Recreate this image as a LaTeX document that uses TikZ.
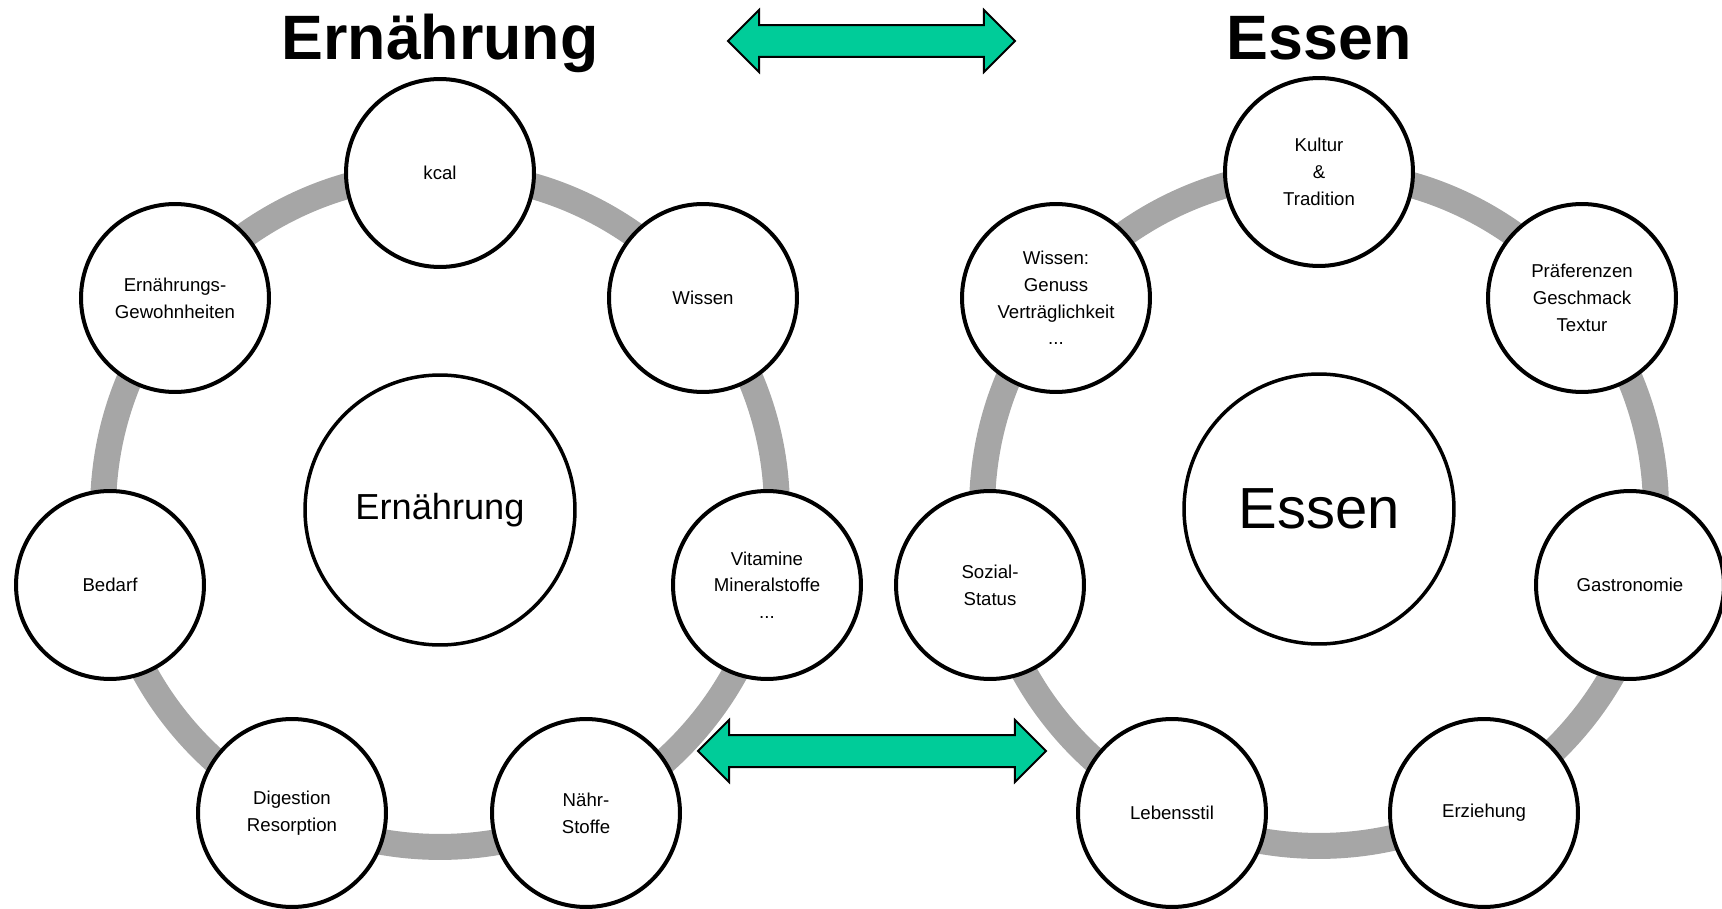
\documentclass[tikz,border=0pt]{standalone}
\usepackage{fontspec}
\setmainfont{Liberation Sans}
\usetikzlibrary{shapes.arrows}
\definecolor{arrowgreen}{RGB}{0,204,153}
\tikzstyle{cRing} = [line width=0.52cm, draw=black!35]
\tikzstyle{cHub} = [circle, minimum size=5.4cm, inner sep=0pt, draw=black, line width=0.07cm, fill=white]
\tikzstyle{cTopic} = [circle, minimum size=3.76cm, inner sep=0pt, draw=black, line width=0.08cm, fill=white, align=center, font=\fontsize{10.6}{15.2}\selectfont]
\tikzstyle{cTitle} = [anchor=base, font=\fontsize{35.7}{40}\selectfont\bfseries]
\tikzstyle{cArrow} = [double arrow, double arrow head extend=0.3cm, inner xsep=0pt, inner ysep=0.3cm, draw=black, line width=0.04cm, fill=arrowgreen]

\begin{document}
\begin{tikzpicture}[x=0.02cm, y=-0.02cm]
    \useasboundingbox (0,0) rectangle (1722,909);

    % titles and arrows
    \node (titleErn) [cTitle] at (440,60) {Ernährung};
    \node (titleEss) [cTitle] at (1319,60) {Essen};
    \node (topArrow) [cArrow, minimum height=5.74cm] at (871.5,41) {};
    \node (bottomArrow) [cArrow, minimum height=6.96cm] at (872,751) {};

    % left group
    \node (ernHub) [cHub, font=\fontsize{20.6}{24}\selectfont] at (440,510) {Ernährung};
    \draw [cRing] (ernHub.center) circle [radius=6.74cm];
    \node (kcal) [cTopic] at (440,173) {kcal};
    \node (gewohn) [cTopic] at (175,298) {Ernährungs-\\Gewohnheiten};
    \node (wissenL) [cTopic] at (703,298) {Wissen};
    \node (bedarf) [cTopic] at (110,585) {Bedarf};
    \node (vitamine) [cTopic] at (767,585) {Vitamine\\Mineralstoffe\\...};
    \node (digestion) [cTopic] at (292,813) {Digestion\\Resorption};
    \node (naehr) [cTopic] at (586,813) {Nähr-\\Stoffe};

    % right group
    \node (essHub) [cHub, font=\fontsize{33}{38}\selectfont] at (1319,509) {Essen};
    \draw [cRing] (essHub.center) circle [radius=6.74cm];
    \node (kultur) [cTopic] at (1319,172) {Kultur\\\&\\Tradition};
    \node (praef) [cTopic] at (1582,298) {Präferenzen\\Geschmack\\Textur};
    \node (gastro) [cTopic] at (1630,585) {Gastronomie};
    \node (erziehung) [cTopic] at (1484,813) {Erziehung};
    \node (lebensstil) [cTopic] at (1172,813) {Lebensstil};
    \node (sozial) [cTopic] at (990,585) {Sozial-\\Status};
    \node (wissenR) [cTopic] at (1056,298) {Wissen:\\Genuss\\Verträglichkeit\\...};
\end{tikzpicture}
\end{document}
